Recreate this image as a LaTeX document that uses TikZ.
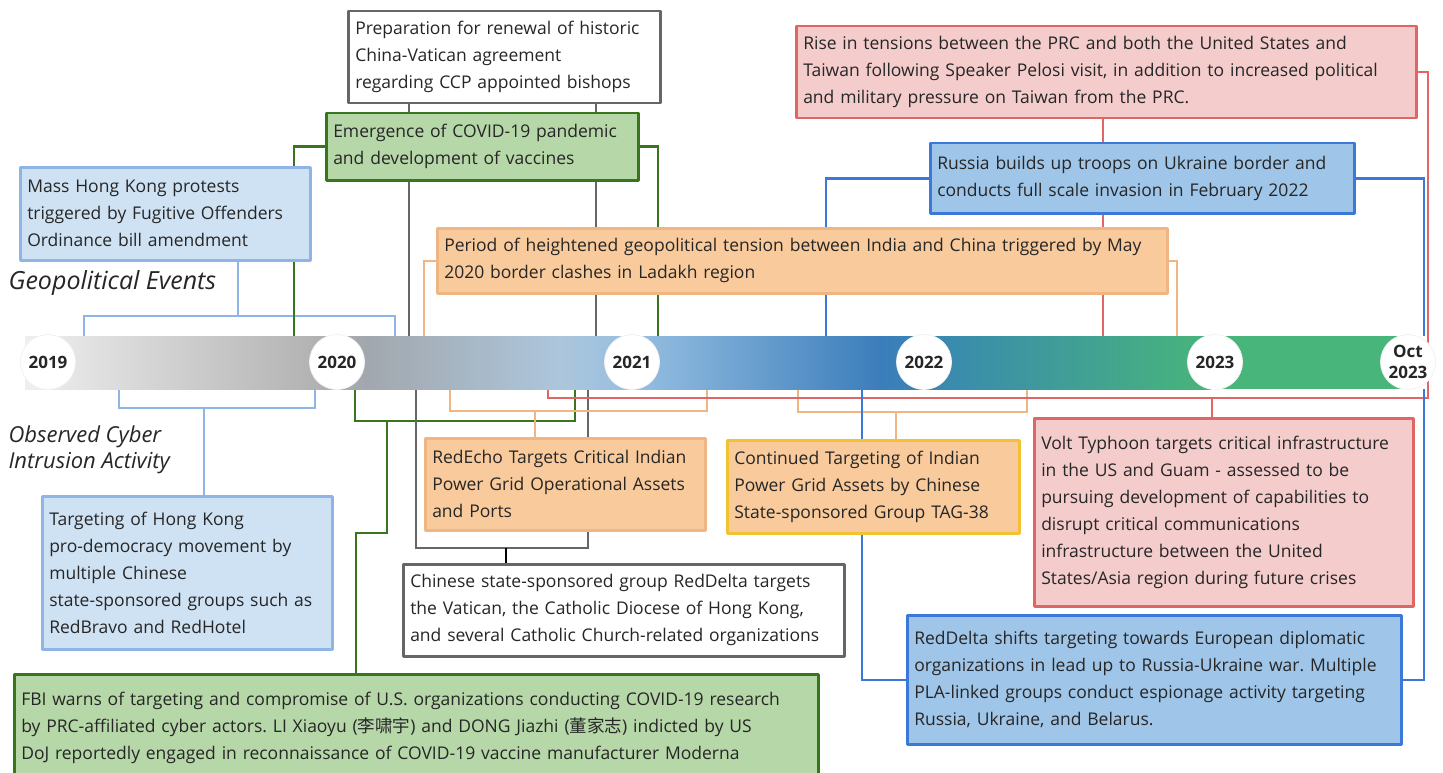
\documentclass[tikz,border=0pt]{standalone}
\usepackage{fontspec}
\setmainfont{Open Sans}
\newfontfamily\cjk{Noto Sans CJK SC}
\usetikzlibrary{backgrounds}
\frenchspacing
\definecolor{greenfill}{HTML}{B6D7A8}
\definecolor{greenline}{HTML}{38761D}
\definecolor{hkfill}{HTML}{CFE2F3}
\definecolor{hkline}{HTML}{8EB5E5}
\definecolor{pinkfill}{HTML}{F4CCCC}
\definecolor{redline}{HTML}{E06666}
\definecolor{bluefill}{HTML}{9FC5E8}
\definecolor{blueline}{HTML}{3C78D8}
\definecolor{orangefill}{HTML}{F9CB9C}
\definecolor{orangeline}{HTML}{EFB582}
\definecolor{yellowline}{HTML}{F1C232}
\definecolor{grayline}{HTML}{666666}
\definecolor{inktext}{HTML}{262626}
\definecolor{bar0}{HTML}{EFEFEF}
\definecolor{bar1}{HTML}{B3B3B3}
\definecolor{bar2}{HTML}{A2A7AD}
\definecolor{bar3}{HTML}{ACC6DC}
\definecolor{bar4}{HTML}{94BDE0}
\definecolor{bar5}{HTML}{3B7DBB}
\definecolor{bar6}{HTML}{3A8DAB}
\definecolor{bar7}{HTML}{48B57A}

\begin{document}
\begin{tikzpicture}[line cap=round,line join=round,x=1pt,y=-1pt,
  evbox/.style={anchor=north west,align=left,inner xsep=7pt,inner ysep=0pt,line width=2.5pt,text=inktext,font=\fontsize{17.5}{27}\selectfont},
  con/.style={line width=2.5pt},
  year/.style={circle,fill=white,draw=black!5,line width=0.8pt,minimum size=55pt,inner sep=0pt,align=center,text=inktext,font=\fontsize{17}{21}\selectfont\bfseries},
  lane/.style={anchor=west,align=left,text=inktext,font=\fontsize{25}{27}\selectfont\itshape}]
\useasboundingbox (0,0) rectangle (1443,773);

% timeline bar
\shade[left color=bar0,right color=bar1] (25,336) rectangle (311,389);
\shade[left color=bar1,right color=bar2] (310,336) rectangle (366,389);
\shade[left color=bar2,right color=bar3] (365,336) rectangle (561,389);
\shade[left color=bar3,right color=bar4] (560,336) rectangle (641,389);
\shade[left color=bar4,right color=bar5] (640,336) rectangle (881,389);
\shade[left color=bar5,right color=bar6] (880,336) rectangle (961,389);
\shade[left color=bar6,right color=bar7] (960,336) rectangle (1211,389);
\fill[bar7] (1210,336) rectangle (1405,389);

\node[year] (y2019) at (48,362) {2019};
\node[year] (y2020) at (337,362) {2020};
\node[year] (y2021) at (632,362) {2021};
\node[year] (y2022) at (924,362) {2022};
\node[year] (y2023) at (1215,362) {2023};
\node[year] (yoct) at (1408,362) {Oct\\2023};

\node[lane] (geo) at (5,283) {Geopolitical Events};
\node[lane,anchor=north west,font=\fontsize{22}{26}\selectfont\itshape] (obs) at (5,422) {Observed Cyber\\Intrusion Activity};

% geopolitical events
\node[evbox,fill=white,draw=grayline,text width=298pt,minimum height=92pt] (prep) at (347,10) {Preparation for renewal of historic\\China-Vatican agreement\\regarding CCP appointed bishops};
\node[evbox,fill=greenfill,draw=greenline,text width=298pt,minimum height=67pt] (covid) at (325,112) {Emergence of COVID-19 pandemic\\and development of vaccines};
\node[evbox,fill=hkfill,draw=hkline,text width=276pt,minimum height=93pt] (masshk) at (19,166) {Mass Hong Kong protests\\triggered by Fugitive Offenders\\Ordinance bill amendment};
\node[evbox,fill=pinkfill,draw=redline,text width=606pt,minimum height=92pt] (rise) at (795,25) {Rise in tensions between the PRC and both the United States and\\Taiwan following Speaker Pelosi visit, in addition to increased political\\and military pressure on Taiwan from the PRC.};
\node[evbox,fill=bluefill,draw=blueline,text width=410pt,minimum height=70pt] (russia) at (929,142) {Russia builds up troops on Ukraine border and\\conducts full scale invasion in February 2022};
\node[evbox,fill=orangefill,draw=orangeline,text width=716pt,minimum height=65pt] (india) at (436,227) {Period of heightened geopolitical tension between India and China triggered by May\\2020 border clashes in Ladakh region};

% cyber intrusion activity
\node[evbox,fill=orangefill,draw=orangeline,text width=266pt,minimum height=92pt] (redecho) at (424,437) {RedEcho Targets Critical Indian\\Power Grid Operational Assets\\and Ports};
\node[evbox,fill=orangefill,draw=yellowline,text width=278pt,minimum height=93pt] (contd) at (726,439) {Continued Targeting of Indian\\Power Grid Assets by Chinese\\State-sponsored Group TAG-38};
\node[evbox,fill=pinkfill,draw=redline,text width=365pt,minimum height=188pt] (volt) at (1033,417) {Volt Typhoon targets critical infrastructure\\in the US and Guam - assessed to be\\pursuing development of capabilities to\\disrupt critical communications\\infrastructure between the United\\States/Asia region during future crises};
\node[evbox,fill=hkfill,draw=hkline,text width=276pt,minimum height=153pt] (targhk) at (41,495) {Targeting of Hong Kong\\pro-democracy movement by\\multiple Chinese\\state-sponsored groups such as\\RedBravo and RedHotel};
\node[evbox,fill=white,draw=grayline,text width=427pt,minimum height=92pt] (reddelta) at (402,563) {Chinese state-sponsored group RedDelta targets\\the Vatican, the Catholic Diocese of Hong Kong,\\and several Catholic Church-related organizations};
\node[evbox,fill=greenfill,draw=greenline,text width=790pt,minimum height=108pt] (fbi) at (13,673) {FBI warns of targeting and compromise of U.S. organizations conducting COVID-19 research\\by PRC-affiliated cyber actors. LI Xiaoyu ({\cjk 李啸宇}) and DONG Jiazhi ({\cjk 董家志}) indicted by US\\DoJ reportedly engaged in reconnaissance of COVID-19 vaccine manufacturer Moderna};
\node[evbox,fill=bluefill,draw=blueline,text width=480pt,minimum height=129pt] (shifts) at (906,614) {RedDelta shifts targeting towards European diplomatic\\organizations in lead up to Russia-Ukraine war. Multiple\\PLA-linked groups conduct espionage activity targeting\\Russia, Ukraine, and Belarus.};

% where the brackets meet the bar
\coordinate (hkA) at (84,336);  \coordinate (hkB) at (395,336);  \coordinate (hkC) at (238,316);
\coordinate (thA) at (119,389); \coordinate (thB) at (315,389);  \coordinate (thC) at (204,408);
\coordinate (cvA) at (294,336); \coordinate (cvB) at (658,336);
\coordinate (cvC) at (355,389); \coordinate (cvD) at (575,389);  \coordinate (cvE) at (387,421);
\coordinate (cvF) at (356,533);
\coordinate (prA) at (409,336); \coordinate (prB) at (596,336);
\coordinate (pbA) at (416,389); \coordinate (pbB) at (588,389);  \coordinate (pbC) at (506,548);
\coordinate (inA) at (424,336); \coordinate (inB) at (1177,336);
\coordinate (reA) at (450,389); \coordinate (reB) at (707,389);  \coordinate (reC) at (535,411);
\coordinate (ctA) at (798,389); \coordinate (ctB) at (1027,389); \coordinate (ctC) at (896,412);
\coordinate (riA) at (1103,336);
\coordinate (rdA) at (548,389); \coordinate (rdB) at (1428,398); \coordinate (vtA) at (1212,398);
\coordinate (ruA) at (826,336); \coordinate (ruB) at (1424,336);
\coordinate (shA) at (862,389); \coordinate (shB) at (1424,389);

\begin{scope}[on background layer]
\draw[con,hkline] (hkA) |- (hkC) -| (hkB);
\draw[con,hkline] (hkC) -- (hkC |- masshk.south);
\draw[con,hkline] (thA) |- (thC) -| (thB);
\draw[con,hkline] (thC) -- (thC |- targhk.north);
\draw[con,greenline] (covid.west) -| (cvA);
\draw[con,greenline] (covid.east) -| (cvB);
\draw[con,greenline] (cvC) |- (cvE) -| (cvD);
\draw[con,greenline] (cvE) |- (cvF) -- (cvF |- fbi.north);
\draw[con,grayline] (prA |- prep.south) -- (prA);
\draw[con,grayline] (prB |- prep.south) -- (prB);
\draw[con,grayline] (pbA) |- (pbC) -| (pbB);
\draw[con,black] (pbC) -- (pbC |- reddelta.north);
\draw[con,orangeline] (india.west) -| (inA);
\draw[con,orangeline] (india.east) -| (inB);
\draw[con,orangeline] (reA) |- (reC) -| (reB);
\draw[con,orangeline] (reC) -- (reC |- redecho.north);
\draw[con,orangeline] (ctA) |- (ctC) -| (ctB);
\draw[con,orangeline] (ctC) -- (ctC |- contd.north);
\draw[con,redline] (riA |- rise.south) -- (riA);
\draw[con,redline] (rise.east) -| (rdB) -| (rdA);
\draw[con,redline] (vtA) -- (vtA |- volt.north);
\draw[con,blueline] (russia.west) -| (ruA);
\draw[con,blueline] (russia.east) -| (ruB);
\draw[con,blueline] (shA) |- (shifts.west);
\draw[con,blueline] (shB) |- (shifts.east);
\end{scope}
\end{tikzpicture}
\end{document}
